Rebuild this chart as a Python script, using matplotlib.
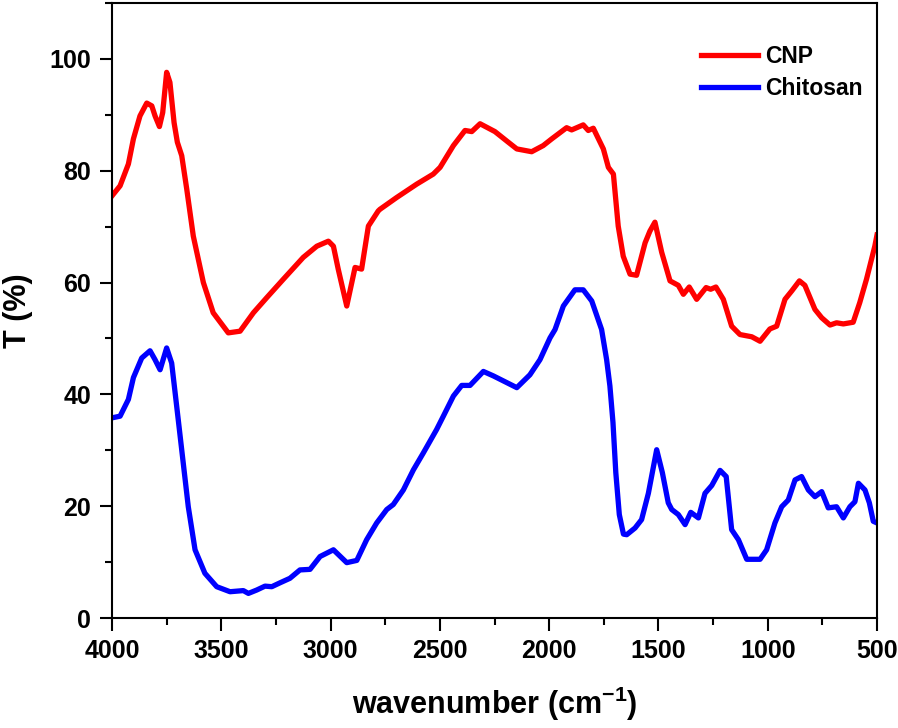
import matplotlib
matplotlib.use("Agg")
import matplotlib.pyplot as plt
from matplotlib.ticker import MultipleLocator

# FTIR spectra (wavenumber in cm-1, transmittance in %)
wn_cnp = [4000, 3963, 3925, 3902, 3872, 3841, 3818, 3803, 3783, 3768, 3750, 3735,
          3716, 3701, 3681, 3658, 3628, 3582, 3537, 3468, 3414, 3353, 3292, 3216,
          3125, 3063, 3010, 2987, 2965, 2926, 2888, 2858, 2827, 2782, 2774, 2698,
          2606, 2530, 2499, 2438, 2385, 2354, 2316, 2248, 2187, 2148, 2080, 2027,
          1988, 1920, 1897, 1844, 1821, 1798, 1752, 1729, 1706, 1684, 1661, 1630,
          1600, 1561, 1539, 1516, 1485, 1447, 1409, 1386, 1359, 1325, 1282, 1261,
          1237, 1203, 1165, 1127, 1073, 1035, 990, 959, 921, 890, 855, 830, 784,
          753, 715, 685, 654, 609, 579, 548, 510, 500]
t_cnp = [75.5, 77.3, 81.2, 85.7, 89.8, 92.1, 91.6, 89.8, 87.9, 90.4, 97.6, 95.8,
         88.6, 85.1, 82.7, 76.7, 68.3, 60.0, 54.6, 51.0, 51.3, 54.6, 57.3, 60.6,
         64.5, 66.5, 67.4, 66.5, 62.4, 55.8, 62.7, 62.4, 70.1, 72.8, 73.1, 75.2,
         77.6, 79.4, 80.6, 84.5, 87.2, 87.0, 88.4, 87.0, 85.1, 83.9, 83.4, 84.5,
         85.7, 87.7, 87.3, 88.2, 87.2, 87.6, 83.9, 80.6, 79.4, 70.1, 64.7, 61.5,
         61.3, 67.1, 69.2, 70.8, 65.4, 60.3, 59.5, 57.9, 59.2, 57.0, 59.1, 58.8,
         59.2, 57.0, 52.2, 50.7, 50.3, 49.5, 51.7, 52.2, 57.0, 58.5, 60.3, 59.5, 55.2,
         53.7, 52.4, 52.8, 52.6, 52.9, 56.4, 60.6, 66.5, 68.5]

wn_chit = [4000, 3963, 3925, 3902, 3864, 3826, 3803, 3780, 3750, 3727, 3697, 3674,
           3651, 3620, 3575, 3521, 3460, 3399, 3376, 3338, 3300, 3269, 3231, 3186,
           3140, 3094, 3048, 2987, 2926, 2880, 2835, 2789, 2743, 2713, 2667, 2621,
           2576, 2515, 2484, 2438, 2400, 2362, 2301, 2255, 2148, 2088, 2042, 1996,
           1973, 1935, 1882, 1844, 1805, 1760, 1737, 1722, 1708, 1695, 1679, 1660,
           1645, 1607, 1577, 1546, 1508, 1482, 1455, 1439, 1409, 1378, 1352, 1317,
           1287, 1256, 1218, 1190, 1165, 1134, 1096, 1035, 1005, 967, 936, 906, 875,
           845, 814, 784, 753, 723, 685, 654, 624, 601, 585, 555, 535, 517, 500]
t_chit = [35.8, 36.1, 39.1, 43.0, 46.5, 47.8, 46.2, 44.4, 48.3, 45.6, 35.5, 27.7,
          19.9, 12.2, 8.0, 5.6, 4.7, 4.9, 4.4, 5.0, 5.7, 5.6, 6.3, 7.1,
          8.6, 8.7, 11.0, 12.2, 9.9, 10.3, 14.0, 17.0, 19.4, 20.3, 22.9, 26.5,
          29.5, 33.7, 36.1, 39.7, 41.6, 41.6, 44.1, 43.3, 41.2, 43.5, 46.2, 50.1,
          51.6, 55.8, 58.7, 58.7, 56.7, 51.6, 46.2, 41.5, 35.0, 26.0, 18.5, 15.0,
          14.9, 16.1, 17.6, 22.3, 30.1, 26.0, 20.6, 19.4, 18.5, 16.7, 18.9, 17.9,
          22.3, 23.7, 26.4, 25.3, 15.8, 14.0, 10.5, 10.5, 12.2, 17.0, 19.9, 21.1, 24.7,
          25.3, 22.9, 21.7, 22.6, 19.7, 19.9, 17.9, 19.9, 20.8, 24.1, 22.9, 20.6, 17.3, 17.0]

plt.rcParams["font.family"] = ["Liberation Sans", "DejaVu Sans"]
plt.rcParams["font.weight"] = "bold"
plt.rcParams["mathtext.fontset"] = "custom"
plt.rcParams["mathtext.rm"] = "Liberation Sans:bold"
plt.rcParams["mathtext.bf"] = "Liberation Sans:bold"

fig = plt.figure(figsize=(8.98, 7.28), dpi=100)
ax = fig.add_axes([112 / 898, 1 - 618 / 728, 765 / 898, 615 / 728])

ax.plot(wn_cnp, t_cnp, color="#ff0000", lw=3.8, label="CNP", solid_joinstyle="round")
ax.plot(wn_chit, t_chit, color="#0000ff", lw=3.8, label="Chitosan", solid_joinstyle="round")

ax.set_xlim(4000, 500)
ax.set_ylim(0, 110)
ax.xaxis.set_major_locator(MultipleLocator(500))
ax.xaxis.set_minor_locator(MultipleLocator(250))
ax.yaxis.set_major_locator(MultipleLocator(20))
ax.yaxis.set_minor_locator(MultipleLocator(10))
ax.tick_params(which="major", direction="out", length=9, width=1.5, pad=6, labelsize=18)
ax.tick_params(which="minor", direction="out", length=5, width=1.5)
for lab in ax.get_xticklabels() + ax.get_yticklabels():
    lab.set_fontweight("bold")
for sp in ax.spines.values():
    sp.set_linewidth(1.5)

ax.set_xlabel(r"wavenumber (cm$^{\mathbf{-1}}$)", fontsize=22, fontweight="bold", labelpad=16)
ax.set_ylabel("T (%)", fontsize=22, fontweight="bold", labelpad=12)

ax.legend(loc="upper left", bbox_to_anchor=(701 / 898, 1 - 45 / 728),
          bbox_transform=fig.transFigure, frameon=False,
          handlelength=2.5, handletextpad=0.3, labelspacing=0.38,
          borderpad=0, borderaxespad=0, prop={"weight": "bold", "size": 16.5})

fig.savefig("out.png", dpi=100)
